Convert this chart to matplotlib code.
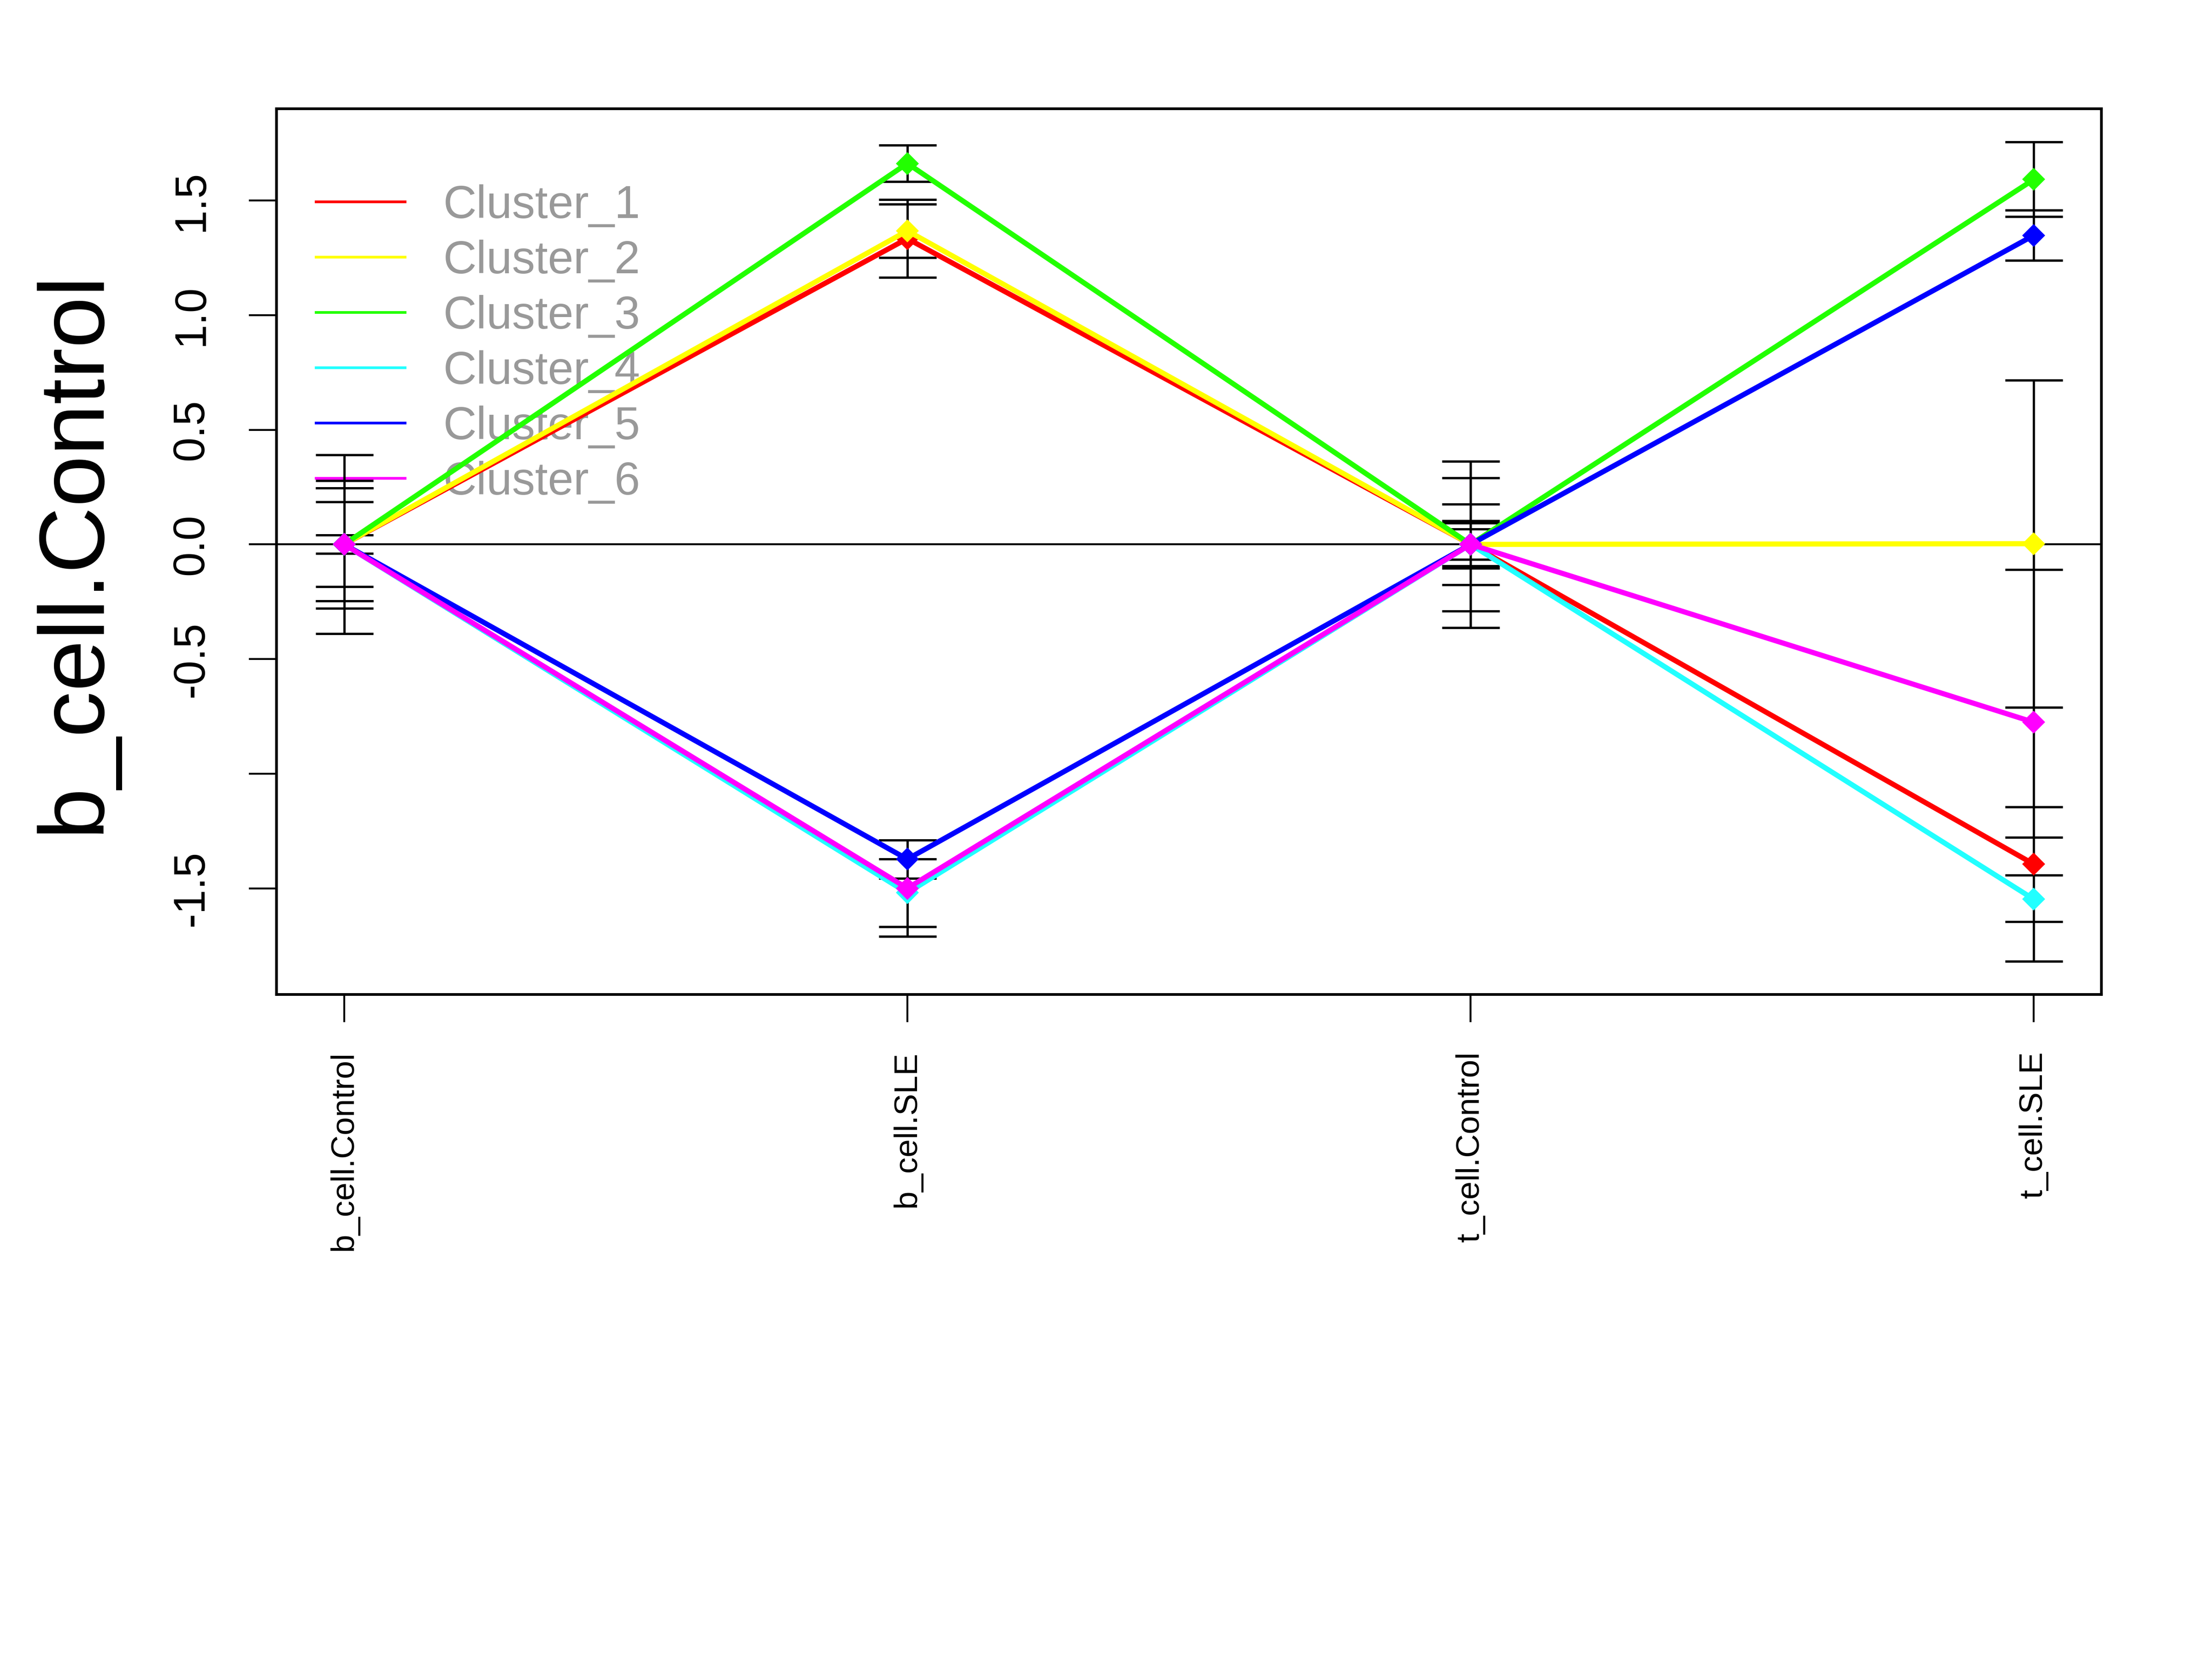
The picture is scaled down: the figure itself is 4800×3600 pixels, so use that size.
import numpy as np
import matplotlib
matplotlib.use("Agg")
import matplotlib.pyplot as plt
from matplotlib.lines import Line2D

plt.rcParams["font.family"] = ["Liberation Sans", "DejaVu Sans"]

# data
conditions = ["b_cell.Control", "b_cell.SLE", "t_cell.Control", "t_cell.SLE"]
clusters = ["Cluster_1", "Cluster_2", "Cluster_3", "Cluster_4", "Cluster_5", "Cluster_6"]
colors = ["#FF0000", "#FFFF00", "#22FF00", "#22FFFF", "#0000FF", "#FF00FF"]

means = [
    [0.0, 1.334, 0.0, -1.395],
    [0.0, 1.368, 0.0, 0.003],
    [0.0, 1.662, 0.0, 1.592],
    [0.0, -1.520, 0.0, -1.548],
    [0.0, -1.373, 0.0, 1.348],
    [0.0, -1.500, 0.0, -0.776],
]
errs = [
    [0.246, 0.170, 0.290, 0.250],
    [0.185, 0.116, 0.066, 0.713],
    [0.278, 0.080, 0.104, 0.163],
    [0.390, 0.148, 0.363, 0.270],
    [0.040, 0.083, 0.094, 0.110],
    [0.246, 0.210, 0.176, 0.667],
]

yticks = [-1.5, -1.0, -0.5, 0.0, 0.5, 1.0, 1.5]
yticklabels = ["-1.5", "", "-0.5", "0.0", "0.5", "1.0", "1.5"]

fig = plt.figure(figsize=(16, 12), dpi=300)
ax = fig.add_axes([0.125, 0.4006, 0.825, 0.5338])

x = np.arange(1, len(conditions) + 1)

for m, e in zip(means, errs):
    ax.errorbar(x, m, yerr=e, fmt="none", ecolor="black", elinewidth=1.2,
                capsize=15, capthick=1.2, zorder=2)

ax.axhline(0, color="black", lw=1.0, zorder=1.5)

for m, c in zip(means, colors):
    ax.plot(x, m, color=c, lw=2.7, marker="D", ms=7.5, mec=c, zorder=3)

ax.set_xlim(0.88, 4.12)
ax.set_ylim(-1.963, 1.90)

ax.set_xticks(x)
ax.set_xticklabels(conditions, rotation=90, fontsize=17)
ax.set_yticks(yticks)
ax.set_yticklabels(yticklabels, rotation=90, va="center", fontsize=23)
ax.tick_params(axis="both", direction="out", length=14.5, width=1.0)
ax.tick_params(axis="x", pad=15)
ax.tick_params(axis="y", pad=19)
for s in ax.spines.values():
    s.set_linewidth(1.4)

ax.set_ylabel("b_cell.Control", fontsize=48)
ax.yaxis.set_label_coords(-0.087, 0.5)

handles = [Line2D([], [], color=c, lw=1.4) for c in colors]
leg = ax.legend(handles, clusters, loc="upper left", bbox_to_anchor=(0.0216, 0.915),
                frameon=False, fontsize=24, handlelength=1.93, handletextpad=0.83,
                labelspacing=0.26, borderaxespad=0, borderpad=0, labelcolor="#999999")
leg.set_zorder(1)

fig.savefig("out.png", dpi=300, facecolor="white")
